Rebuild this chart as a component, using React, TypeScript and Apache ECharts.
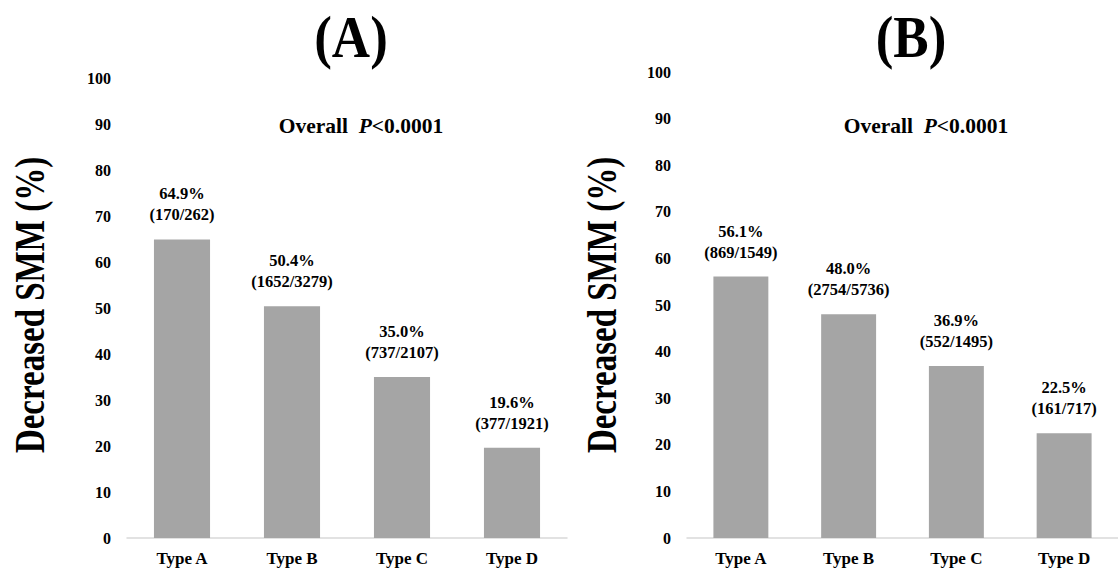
import React, { useEffect, useRef } from "react";
import * as echarts from "echarts";

const categories = ["Type A", "Type B", "Type C", "Type D"];
const valuesA = [64.9, 50.4, 35.0, 19.6];
const countsA = ["170/262", "1652/3279", "737/2107", "377/1921"];
const valuesB = [56.1, 48.0, 36.9, 22.5];
const countsB = ["869/1549", "2754/5736", "552/1495", "161/717"];
const panelTitles = ["(A)", "(B)"];
const pText = "<0.0001";
const yAxisTitle = "Decreased SMM (%)";

const FONT = "'Liberation Serif', 'Times New Roman', serif";
const BAR = "#A5A5A5";
const AXIS = "#D9D9D9";

export default function App() {
  const ref = useRef<HTMLDivElement>(null);
  useEffect(() => {
    if (!ref.current) return;
    const chart = echarts.init(ref.current, null, { renderer: "svg" });
    const grids = [
      { left: 127, top: 78, width: 440, height: 460 },
      { left: 687, top: 72, width: 441, height: 466 },
    ];
    const mkX = (i: number) => ({
      type: "category",
      gridIndex: i,
      data: categories,
      axisLine: { show: true, lineStyle: { color: AXIS, width: 1.5 } },
      axisTick: { show: false },
      axisLabel: {
        color: "#000",
        fontFamily: FONT,
        fontWeight: "bold",
        fontSize: 17,
        margin: 12,
      },
    });
    const mkY = (i: number) => ({
      type: "value",
      gridIndex: i,
      min: 0,
      max: 100,
      interval: 10,
      splitLine: { show: false },
      axisLine: { show: false },
      axisTick: { show: false },
      axisLabel: {
        color: "#000",
        fontFamily: FONT,
        fontWeight: "bold",
        fontSize: 16,
        margin: 16,
      },
    });
    const mkSeries = (i: number, vals: number[], counts: string[]) => ({
      type: "bar",
      xAxisIndex: i,
      yAxisIndex: i,
      data: vals,
      barWidth: "51%",
      itemStyle: { color: BAR },
      label: {
        show: true,
        position: "top",
        distance: 14,
        color: "#000",
        fontFamily: FONT,
        fontWeight: "bold",
        fontSize: 16.5,
        lineHeight: 21,
        align: "center",
        formatter: (p: any) =>
          `${vals[p.dataIndex].toFixed(1)}%\n(${counts[p.dataIndex]})`,
      },
    });
    const overall = (x: number) => ({
      type: "text",
      x,
      y: 126,
      style: {
        text: "{b|Overall  }{i|P}{b|" + pText + "}",
        align: "center",
        verticalAlign: "middle",
        rich: {
          b: { fontFamily: FONT, fontWeight: "bold", fontSize: 21.5, fill: "#000" },
          i: {
            fontFamily: FONT,
            fontWeight: "bold",
            fontStyle: "italic",
            fontSize: 21.5,
            fill: "#000",
          },
        },
      },
    });
    const title = (x: number, t: string) => ({
      type: "text",
      x,
      y: 37,
      scaleY: 1.1,
      style: {
        text: t,
        fontFamily: FONT,
        fontWeight: "bold",
        fontSize: 53,
        fill: "#000",
        align: "center",
        verticalAlign: "middle",
      },
    });
    const yName = (x: number) => ({
      type: "text",
      x,
      y: 305,
      rotation: Math.PI / 2,
      scaleY: 1.3,
      style: {
        text: yAxisTitle,
        fontFamily: FONT,
        fontWeight: "bold",
        fontSize: 33,
        fill: "#000",
        align: "center",
        verticalAlign: "middle",
      },
    });
    chart.setOption({
      animation: false,
      backgroundColor: "#fff",
      grid: grids,
      xAxis: [mkX(0), mkX(1)],
      yAxis: [mkY(0), mkY(1)],
      series: [mkSeries(0, valuesA, countsA), mkSeries(1, valuesB, countsB)],
      graphic: [
        title(351, panelTitles[0]),
        title(911, panelTitles[1]),
        overall(361),
        overall(926),
        yName(29),
        yName(601),
      ],
    });
    return () => chart.dispose();
  }, []);
  return (
    <div
      ref={ref}
      style={{ position: "absolute", left: 0, top: 0, width: 1118, height: 570 }}
    />
  );
}
